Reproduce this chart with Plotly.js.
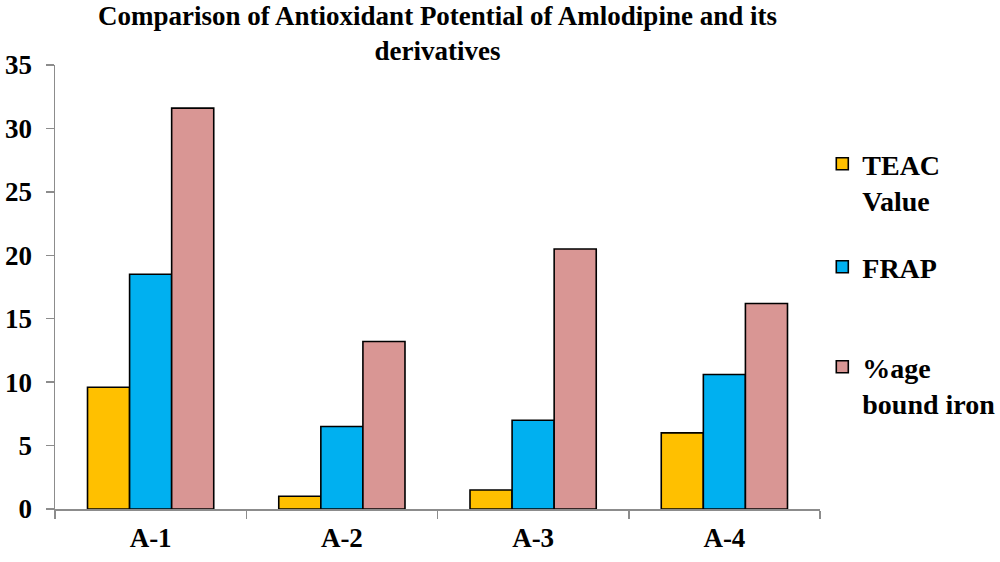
<!DOCTYPE html>
<html>
<head>
<meta charset="utf-8">
<script src="https://cdn.plot.ly/plotly-3.0.1.min.js"></script>
<style>html,body{margin:0;padding:0;background:#fff;}#chart{width:1000px;height:562px;}</style>
</head>
<body>
<div id="chart"></div>
<script>
const categories = ["A-1", "A-2", "A-3", "A-4"];
const teacValues = [9.6, 1.0, 1.5, 6.0];
const frapValues = [18.5, 6.5, 7.0, 10.6];
const boundIronValues = [31.6, 13.2, 20.5, 16.2];
const seriesNames = ["TEAC<br>Value", "FRAP", "%age<br>bound iron"];
const seriesColors = ["#FFC000", "#00B0F0", "#D99694"];
const yTicks = [0, 5, 10, 15, 20, 25, 30, 35];

const seriesValues = [teacValues, frapValues, boundIronValues];
const fam = "Liberation Serif, Times New Roman, serif";
const boldFont = (size) => ({family: fam, size: size, color: "#000", weight: "bold"});
const legendIds = ["legend", "legend2", "legend3"];

const traces = seriesValues.map((vals, i) => ({
  type: "bar",
  x: categories,
  y: vals,
  name: seriesNames[i],
  legend: legendIds[i],
  marker: {color: seriesColors[i], line: {color: "#000", width: 1.6}},
  hoverinfo: "x+y"
}));

const legendTops = [139, 242, 342];
const legendBase = (top) => ({
  xref: "paper", x: 1.003, xanchor: "left",
  yref: "paper", y: (509 - top) / 444, yanchor: "top",
  font: boldFont(28), valign: "top",
  itemwidth: 30, bgcolor: "rgba(0,0,0,0)"
});

const layout = {
  width: 1000, height: 562,
  margin: {l: 55, r: 180, t: 65, b: 53, autoexpand: false},
  paper_bgcolor: "#fff", plot_bgcolor: "#fff",
  font: {family: fam, color: "#000"},
  title: {
    text: "Comparison of Antioxidant Potential of Amlodipine and its<br>derivatives",
    font: boldFont(27),
    xref: "paper", x: 0.5, xanchor: "center",
    yref: "container", y: 1 - 25 / 562, yanchor: "middle"
  },
  bargap: 0.34, bargroupgap: 0,
  barmode: "group",
  xaxis: {
    showline: true, linecolor: "#8c8c8c", linewidth: 1.5,
    ticks: "outside", tickson: "boundaries", ticklen: 8, tickcolor: "#8c8c8c", tickwidth: 1.5,
    tickfont: boldFont(27), ticklabelstandoff: 4,
    showgrid: false, zeroline: false
  },
  yaxis: {
    range: [0, 35], tickvals: yTicks,
    showline: true, linecolor: "#8c8c8c", linewidth: 1.5,
    ticks: "outside", ticklen: 8, tickcolor: "#8c8c8c", tickwidth: 1.5,
    tickfont: boldFont(27), ticklabelstandoff: 8,
    showgrid: false, zeroline: false
  },
  legend: legendBase(legendTops[0]),
  legend2: legendBase(legendTops[1]),
  legend3: legendBase(legendTops[2]),
  showlegend: true
};

Plotly.newPlot("chart", traces, layout, {displayModeBar: false, staticPlot: true});
</script>
</body>
</html>
